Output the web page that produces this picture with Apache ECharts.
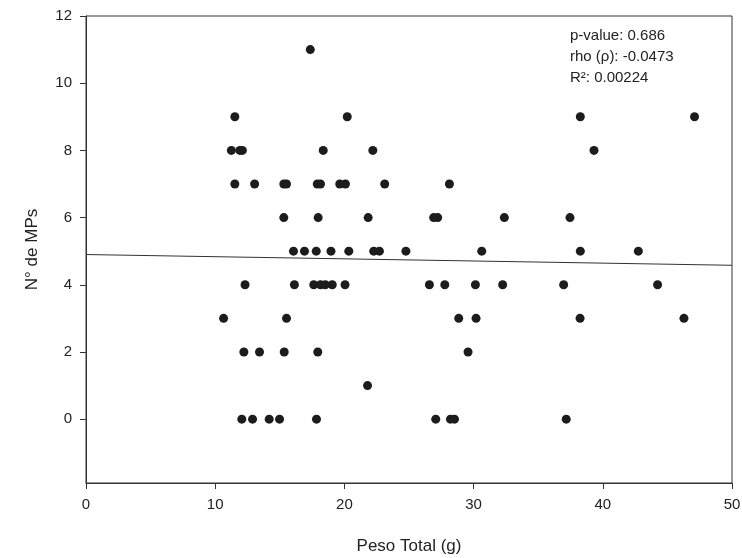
<!DOCTYPE html>
<html lang="es">

<head>
    <meta charset="UTF-8">
    <title>Peso Total vs N° de MPs</title>
    <script src="https://cdn.jsdelivr.net/npm/echarts@6/dist/echarts.min.js"></script>
    <style>
        html, body { margin: 0; padding: 0; background: #fff; }
        #chart { width: 742px; height: 558px; }
    </style>
</head>

<body>
    <div id="chart"></div>

    <script>
        // Peso total (g), agrupado por número de MPs
        var peso0 = [12.06, 12.89, 14.18, 14.98, 17.84, 27.07, 28.21, 28.52, 37.17];
        var peso1 = [21.79];
        var peso2 = [12.22, 13.43, 15.34, 17.94, 29.57];
        var peso3 = [10.65, 15.52, 28.85, 30.19, 38.24, 46.28];
        var peso4 = [12.31, 16.13, 17.63, 18.15, 18.52, 19.06, 20.05, 26.58, 27.77, 30.14, 32.25, 36.97, 44.24];
        var peso5 = [16.06, 16.91, 17.82, 18.96, 20.34, 22.27, 22.71, 24.76, 30.63, 38.26, 42.75];
        var peso6 = [15.31, 17.97, 21.84, 26.91, 27.22, 32.38, 37.46];
        var peso7 = [11.52, 13.05, 15.31, 15.52, 17.9, 18.15, 19.64, 20.08, 23.12, 28.13];
        var peso8 = [11.25, 11.91, 12.1, 18.36, 22.2, 39.32];
        var peso9 = [11.52, 20.22, 38.26, 47.1];
        var peso11 = [17.36];

        var grupos = [
            [0, peso0], [1, peso1], [2, peso2], [3, peso3], [4, peso4], [5, peso5],
            [6, peso6], [7, peso7], [8, peso8], [9, peso9], [11, peso11]
        ];

        // recta de regresión (extremos)
        var regX = [0, 50];
        var regY = [4.9, 4.58];

        var yTicks = [0, 2, 4, 6, 8, 10, 12];
        var stats = ['p-value: 0.686', 'rho (\u03c1): -0.0473', 'R\u00b2: 0.00224'];

        var puntos = [];
        for (var i = 0; i < grupos.length; i++) {
            var mps = grupos[i][0];
            var pesos = grupos[i][1];
            for (var j = 0; j < pesos.length; j++) {
                puntos.push([pesos[j], mps]);
            }
        }
        var recta = [];
        for (var k = 0; k < regX.length; k++) {
            recta.push([regX[k], regY[k]]);
        }

        var myChart = echarts.init(document.getElementById('chart'));
        var txt = '#222';
        var font = 'Liberation Sans, Arial, sans-serif';

        var option = {
            animation: false,
            backgroundColor: '#fff',
            grid: {
                left: 86,
                right: 10,
                top: 16,
                bottom: 75,
                outerBoundsMode: 'none',
                containLabel: false,
                show: true,
                borderColor: '#333',
                borderWidth: 1
            },
            xAxis: {
                type: 'value',
                min: 0,
                max: 50,
                interval: 10,
                name: 'Peso Total (g)',
                nameLocation: 'middle',
                nameGap: 55,
                nameTextStyle: { color: txt, fontSize: 17, fontFamily: font },
                axisLine: { show: true, onZero: false, lineStyle: { color: '#333', width: 1 } },
                axisTick: { show: true, inside: false, length: 6, lineStyle: { color: '#333' } },
                axisLabel: { color: txt, fontSize: 15, fontFamily: font, margin: 14 },
                splitLine: { show: false }
            },
            yAxis: {
                type: 'value',
                min: -1.9,
                max: 12,
                name: 'N\u00b0 de MPs',
                nameLocation: 'middle',
                nameGap: 45,
                nameRotate: 90,
                nameTextStyle: { color: txt, fontSize: 17, fontFamily: font },
                axisLine: { show: true, onZero: false, lineStyle: { color: '#333', width: 1 } },
                axisTick: { show: true, length: 6, customValues: yTicks, lineStyle: { color: '#333' } },
                axisLabel: { color: txt, fontSize: 15, fontFamily: font, margin: 14, customValues: yTicks },
                splitLine: { show: false }
            },
            graphic: [{
                type: 'text',
                left: 570,
                top: 25,
                style: {
                    text: stats.join('\n'),
                    fill: txt,
                    font: '15px ' + font,
                    lineHeight: 21
                }
            }],
            series: [{
                    type: 'line',
                    data: recta,
                    showSymbol: false,
                    lineStyle: { color: '#333', width: 1 },
                    z: 1
                },
                {
                    type: 'scatter',
                    data: puntos,
                    symbolSize: 9,
                    itemStyle: { color: '#1c1c1c', opacity: 1 },
                    z: 2
                }
            ]
        };

        myChart.setOption(option);
    </script>
</body>

</html>
